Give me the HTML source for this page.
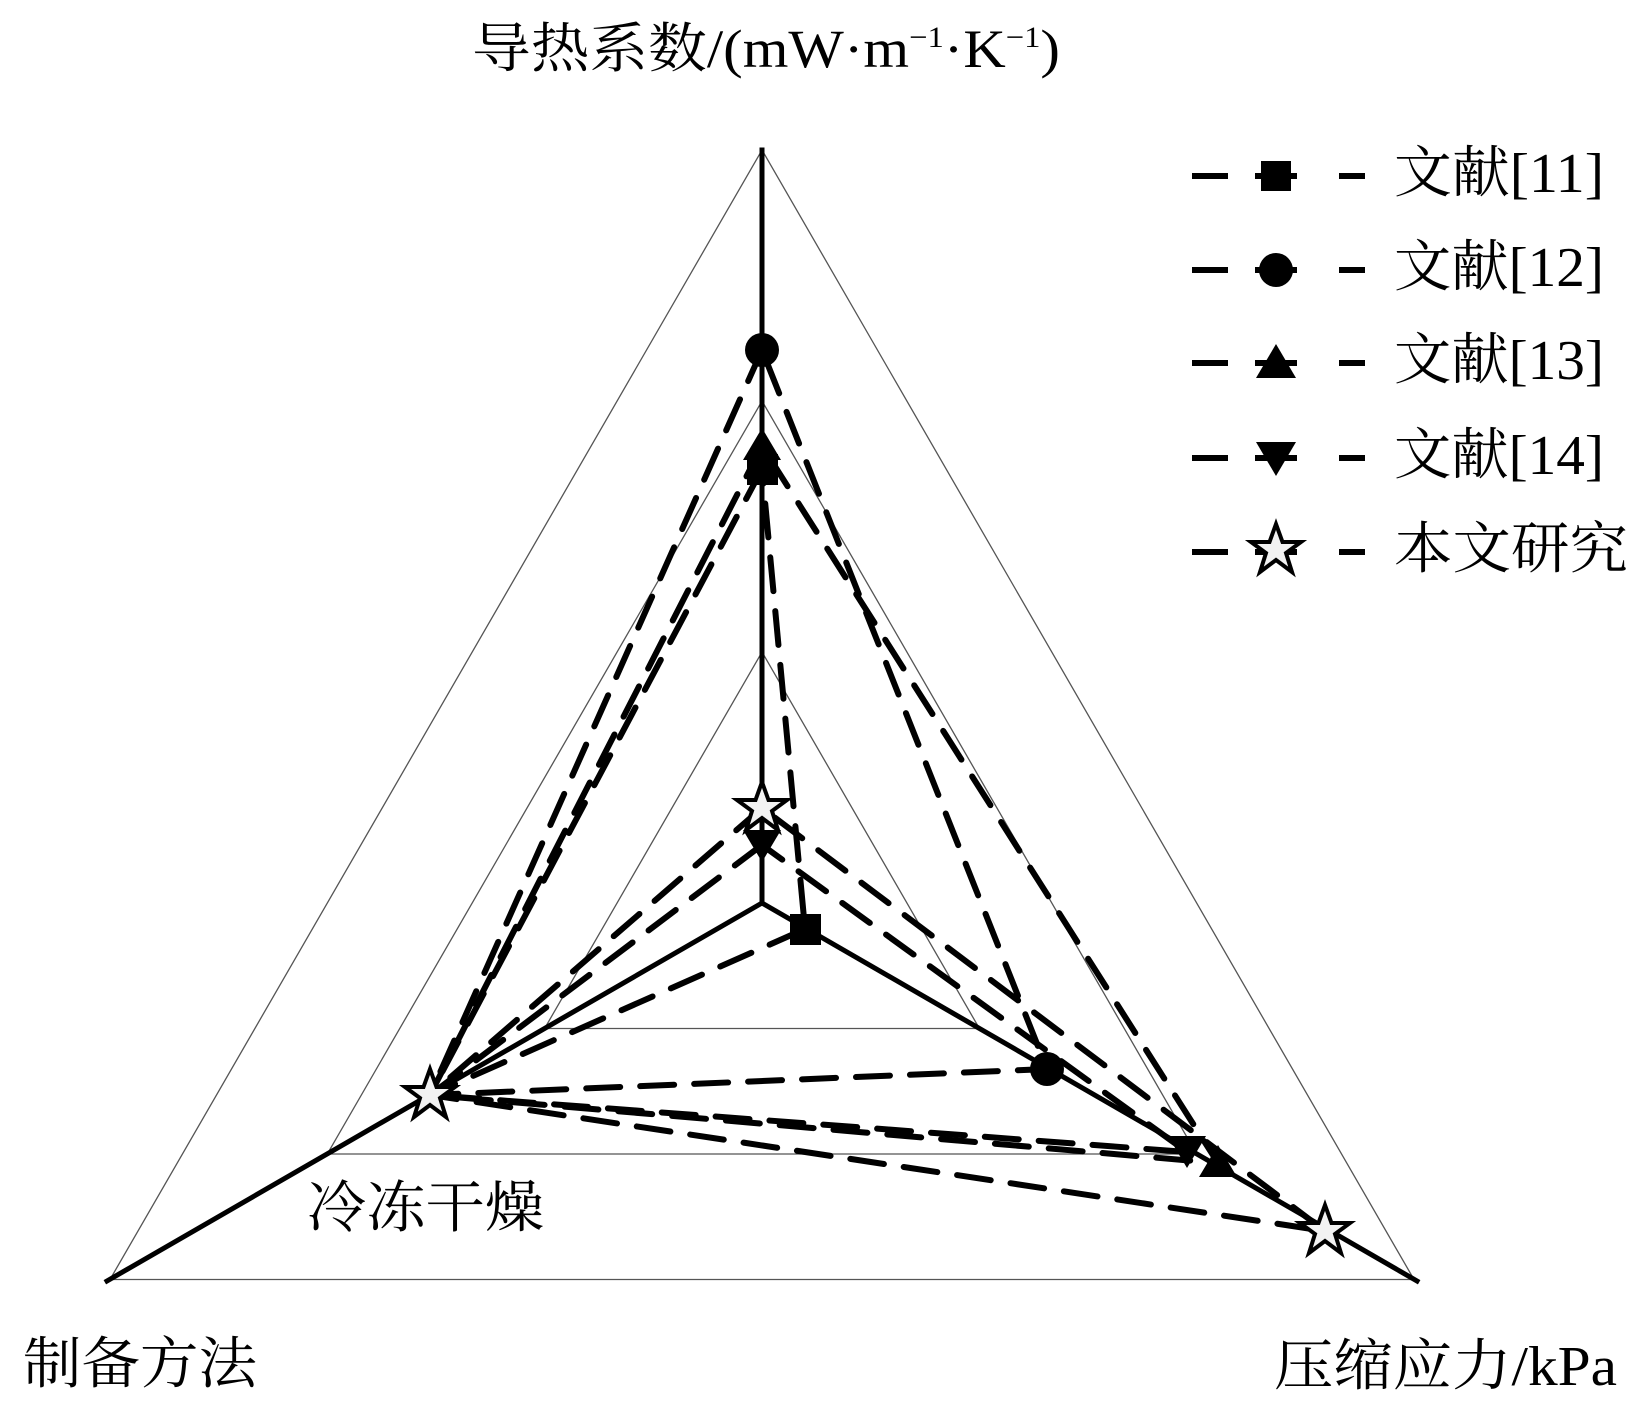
<!DOCTYPE html>
<html><head><meta charset="utf-8"><style>
html,body{margin:0;padding:0;background:#fff;}
svg{display:block}
text{font-family:"Liberation Serif","Noto Serif CJK SC",serif;fill:#000}
</style></head><body>
<svg width="1643" height="1413" viewBox="0 0 1643 1413" xmlns="http://www.w3.org/2000/svg">
<defs>
<polygon id="star" points="0,-26 6.5,-8 25,-8 10,3 16,22 0,10 -16,22 -10,3 -25,-8 -6.5,-8" fill="#f2f2f2" stroke="#000" stroke-width="4" stroke-linejoin="miter"/>
</defs>
<g fill="none" stroke="#555" stroke-width="1.3">
<polygon points="762,150 1414,1279.5 110,1279.5"/>
<polygon points="762,401 1196.7,1154 327.3,1154"/>
<polygon points="762,652 979.4,1028.5 544.6,1028.5"/>
</g>
<g stroke="#000" stroke-width="5" stroke-linecap="square">
<line x1="762" y1="903" x2="762" y2="150"/>
<line x1="762" y1="903" x2="107" y2="1281"/>
<line x1="762" y1="903" x2="1417" y2="1281"/>
</g>
<g fill="none" stroke="#000" stroke-width="6" stroke-dasharray="34 20" stroke-linecap="round">
<polygon points="762,469 430,1095 805,929"/>
<polygon points="762,350 430,1095 1047,1069"/>
<polygon points="762,446 430,1095 1218,1163"/>
<polygon points="762,845 430,1095 1187,1152"/>
<polygon points="762,808 430,1095 1325,1231"/>
</g>
<rect x="790" y="914" width="31" height="31" fill="#000"/>
<rect x="747" y="454" width="31" height="31" fill="#000"/>
<circle cx="762" cy="350" r="17" fill="#000"/>
<circle cx="1047" cy="1069" r="17" fill="#000"/>
<polygon points="762,428 781,460 743,460" fill="#000"/>
<polygon points="1218,1145 1237,1177 1199,1177" fill="#000"/>
<polygon points="762,862 781,830 743,830" fill="#000"/>
<polygon points="1187,1168 1206,1136 1168,1136" fill="#000"/>
<use href="#star" x="762" y="808"/>
<use href="#star" x="430" y="1095"/>
<use href="#star" x="1325" y="1231"/>
<g stroke="#000" stroke-width="6">
<line x1="1192" y1="176" x2="1228" y2="176"/><line x1="1339" y1="176" x2="1365" y2="176"/>
<line x1="1192" y1="270" x2="1228" y2="270"/><line x1="1339" y1="270" x2="1365" y2="270"/>
<line x1="1192" y1="363" x2="1228" y2="363"/><line x1="1339" y1="363" x2="1365" y2="363"/>
<line x1="1192" y1="458" x2="1228" y2="458"/><line x1="1339" y1="458" x2="1365" y2="458"/>
<line x1="1192" y1="552" x2="1228" y2="552"/><line x1="1339" y1="552" x2="1365" y2="552"/>
<line x1="1255" y1="176" x2="1297" y2="176"/>
<line x1="1255" y1="270" x2="1297" y2="270"/>
<line x1="1255" y1="363" x2="1297" y2="363"/>
<line x1="1255" y1="458" x2="1297" y2="458"/>
<line x1="1255" y1="552" x2="1297" y2="552"/>
</g>
<rect x="1261" y="161" width="30" height="30" fill="#000"/>
<circle cx="1276" cy="270" r="17" fill="#000"/>
<polygon points="1276,344 1296,378 1256,378" fill="#000"/>
<polygon points="1276,476 1296,442 1256,442" fill="#000"/>
<use href="#star" x="1276" y="550"/>
<g font-size="56">
<text x="1394" y="192" textLength="210" lengthAdjust="spacingAndGlyphs">文献[11]</text>
<text x="1394" y="286" textLength="210" lengthAdjust="spacingAndGlyphs">文献[12]</text>
<text x="1394" y="379" textLength="210" lengthAdjust="spacingAndGlyphs">文献[13]</text>
<text x="1394" y="474" textLength="210" lengthAdjust="spacingAndGlyphs">文献[14]</text>
<text x="1394" y="568" textLength="234" lengthAdjust="spacingAndGlyphs">本文研究</text>
</g>
<text x="472" y="67" font-size="54" textLength="588" lengthAdjust="spacingAndGlyphs">导热系数/(mW·m<tspan font-size="30" dy="-20">−1</tspan><tspan dy="20">·K</tspan><tspan font-size="30" dy="-20">−1</tspan><tspan dy="20">)</tspan></text>
<text x="23" y="1383" font-size="56" textLength="234" lengthAdjust="spacingAndGlyphs">制备方法</text>
<text x="1274" y="1385" font-size="56" textLength="343" lengthAdjust="spacingAndGlyphs">压缩应力/kPa</text>
<text x="307" y="1227" font-size="56" textLength="237" lengthAdjust="spacingAndGlyphs">冷冻干燥</text>
</svg>
</body></html>
